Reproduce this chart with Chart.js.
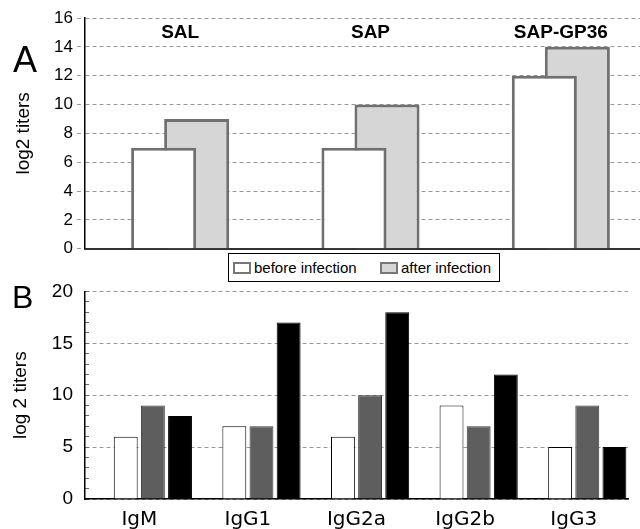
<!DOCTYPE html>
<html>
<head>
<meta charset="utf-8">
<script src="https://cdn.jsdelivr.net/npm/chart.js@4"></script>
<style>
  body { margin: 0; width: 640px; height: 529px; overflow: hidden; background: #fff; font-family: "Liberation Sans", Arial, sans-serif; }
  .box { position: absolute; }
  .letter { position: absolute; color: #000; }
  #legend { position: absolute; left: 228px; top: 253px; width: 272px; height: 29px; box-sizing: border-box; border: 1px solid #000; background: #fff; }
  .item { position: absolute; top: 0; height: 27px; display: flex; align-items: center; font-size: 15px; color: #000; }
  .swatch { width: 14px; height: 8px; border: 2px solid #777; margin-right: 3px; }
</style>
</head>
<body>
<div class="box" style="left:0;top:0;width:656px;height:263px"><canvas id="chartA"></canvas></div>
<div class="box" style="left:0;top:264px;width:640px;height:265px"><canvas id="chartB"></canvas></div>
<div class="letter" style="left:13px;top:42px;font-size:36px;line-height:36px">A</div>
<div class="letter" style="left:12px;top:281px;font-size:32px;line-height:32px">B</div>
<div id="legend"></div>
<script>
// Panel A data
const groupsA = ['SAL', 'SAP', 'SAP-GP36'];
const seriesA = ['before infection', 'after infection'];
const beforeA = [7, 7, 12];
const afterA = [9, 10, 14];

// Panel B data (first series of the original sheet is empty)
const isotypes = ['IgM', 'IgG1', 'IgG2a', 'IgG2b', 'IgG3'];
const seriesB = ['', 'SAL', 'SAP', 'SAP-GP36'];
const emptyB = [null, null, null, null, null];
const whiteB = [6, 7, 6, 9, 5];
const grayB = [9, 7, 10, 7, 9];
const blackB = [8, 17, 18, 12, 5];

const font = '"Liberation Sans", Arial, sans-serif';
const fillA = ['#ffffff', '#d6d6d6'];
const edgeA = '#707070';

// Labels SAL / SAP / SAP-GP36 inside plot area
const groupLabels = {
    id: 'groupLabels',
    afterDatasetsDraw(chart) {
        let c = chart.ctx, x = chart.scales.x, y = chart.scales.y;
        c.save();
        c.font = 'bold 19px ' + font;
        c.fillStyle = '#000';
        c.textAlign = 'center';
        c.textBaseline = 'middle';
        groupsA.forEach((g, i) => c.fillText(g, x.getPixelForValue(i), y.getPixelForValue(15)));
        c.restore();
    }
};

let chartA = new Chart(document.getElementById('chartA'), {
    type: 'bar',
    data: {
        labels: groupsA,
        datasets: [
            { label: seriesA[0], data: beforeA, backgroundColor: fillA[0], borderColor: edgeA, borderWidth: 3 },
            { label: seriesA[1], data: afterA, backgroundColor: fillA[1], borderColor: edgeA, borderWidth: 3 }
        ]
    },
    options: {
        responsive: true,
        maintainAspectRatio: false,
        animation: false,
        categoryPercentage: 0.347,
        barPercentage: 1.97,
        layout: { padding: { top: 18, left: 0, right: 0, bottom: 0 } },
        plugins: { legend: { display: false }, tooltip: { enabled: false } },
        scales: {
            x: {
                ticks: { display: false },
                grid: { display: false, drawTicks: false },
                border: { color: '#333', width: 2 },
                afterFit: s => { s.height = 3; }
            },
            y: {
                min: 0, max: 16,
                ticks: { stepSize: 2, color: '#000', font: { family: font, size: 17 }, padding: 4 },
                grid: { color: '#999', tickColor: '#999', tickLength: 8, tickBorderDash: [4, 3] },
                border: { color: '#000', width: 1.5, dash: [4, 3] },
                title: { display: true, text: 'log2 titers', color: '#000', font: { family: font, size: 19 }, padding: { top: 12 } },
                afterFit: s => { s.width = 85; }
            }
        }
    },
    plugins: [groupLabels]
});

// HTML legend for panel A
let legendEl = document.getElementById('legend');
let legendLeft = [4, 151];
seriesA.forEach((name, i) => {
    let item = document.createElement('div');
    item.className = 'item';
    item.style.left = legendLeft[i] + 'px';
    item.innerHTML = `<span class="swatch" style="background:${fillA[i]}"></span>${name}`;
    legendEl.appendChild(item);
});

let chartB = new Chart(document.getElementById('chartB'), {
    type: 'bar',
    data: {
        labels: isotypes,
        datasets: [
            { label: seriesB[0], data: emptyB },
            { label: seriesB[1], data: whiteB, backgroundColor: '#ffffff', borderColor: '#000', borderWidth: 1 },
            { label: seriesB[2], data: grayB, backgroundColor: '#5e5e5e', borderColor: '#3a3a3a', borderWidth: 1 },
            { label: seriesB[3], data: blackB, backgroundColor: '#000000', borderColor: '#000', borderWidth: 1 }
        ]
    },
    options: {
        responsive: true,
        maintainAspectRatio: false,
        animation: false,
        categoryPercentage: 1,
        barPercentage: 0.88,
        layout: { padding: { top: 0, left: 0, right: 12, bottom: 0 } },
        plugins: { legend: { display: false }, tooltip: { enabled: false } },
        scales: {
            x: {
                ticks: { color: '#000', font: { family: '"DejaVu Sans", sans-serif', size: 20 }, padding: 9 },
                grid: { display: false, drawTicks: false },
                border: { color: '#000', width: 1.5 },
                afterFit: s => { s.height = 30; }
            },
            y: {
                min: 0, max: 20,
                ticks: {
                    stepSize: 1, autoSkip: false, color: '#000', padding: 16,
                    font: { family: font, size: 19 },
                    callback: v => (v % 5 === 0 ? v : '')
                },
                // minor ticks point inward, dashed lines only every 5
                grid: {
                    color: c => (c.tick.value % 5 === 0 ? '#999' : 'rgba(0,0,0,0)'),
                    tickColor: '#666', tickLength: -4
                },
                border: { color: '#000', width: 1.5, dash: [4, 3] },
                title: { display: true, text: 'log 2 titers', color: '#000', font: { family: font, size: 19 }, padding: { top: 9 } },
                afterFit: s => { s.width = 85; }
            }
        }
    }
});
</script>
</body>
</html>
